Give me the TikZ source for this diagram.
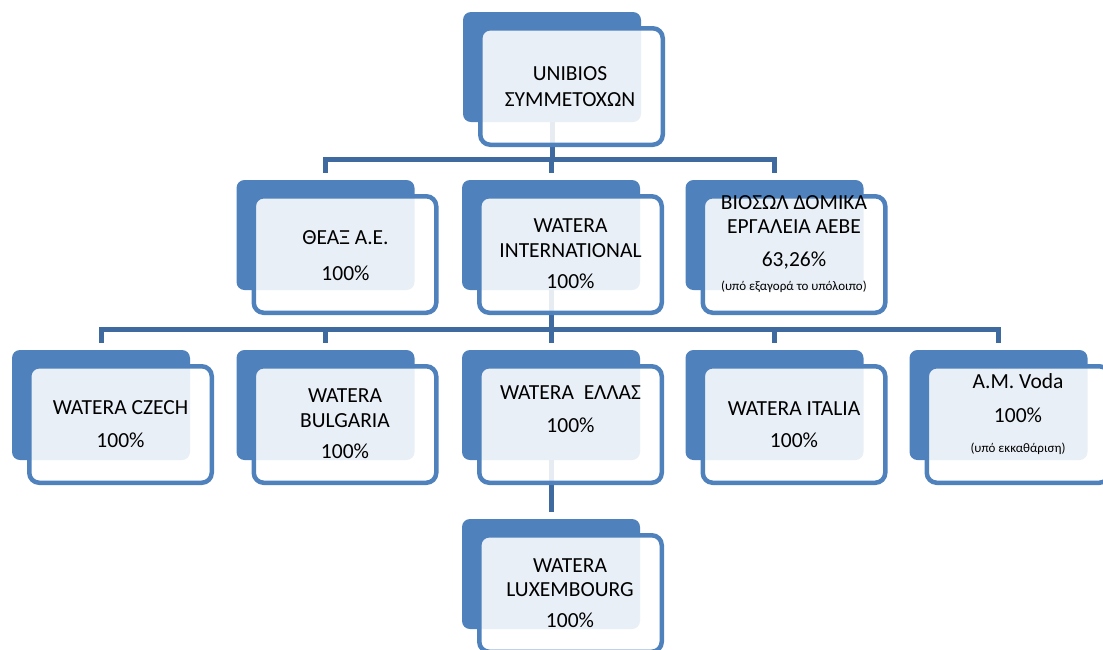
\documentclass[tikz,border=0pt]{standalone}
\usepackage{fontspec}
\setmainfont{Carlito}
\definecolor{boxblue}{HTML}{4F81BD}
\definecolor{connblue}{HTML}{3F6AA0}
\tikzset{
  backbox/.style={fill=boxblue, draw=none, rounded corners=8pt, inner sep=0pt,
    minimum width=178pt, minimum height=110pt},
  frontbox/.style={fill=white, fill opacity=0.88, draw=boxblue, draw opacity=1,
    line width=4.5pt, rounded corners=10pt, inner sep=0pt,
    minimum width=182.5pt, minimum height=116.5pt},
  conn/.style={draw=connblue, line width=5pt, shorten >=7pt},
  txt/.style={anchor=base, inner sep=0pt, text=black, opacity=1, text opacity=1,
    font=\fontsize{21.5}{25}\selectfont},
  small/.style={txt, font=\fontsize{13}{15}\selectfont},
}
\newcommand\orgback[3]{\node[backbox] (#1) at (#2,#3+55) {};}
\newcommand\orgfront[1]{\node[frontbox] (#1f) at ([shift={(19.5pt,-19.5pt)}]#1.center) {};}
\begin{document}
\begin{tikzpicture}[x=1pt,y=-1pt]
\useasboundingbox (0,0) rectangle (1103,649);
\clip (0,0) rectangle (1103,649);
% back rectangles
\orgback{top}{552}{12}
\orgback{theax}{325.5}{180}
\orgback{intl}{551}{180}
\orgback{biosol}{774.5}{180}
\orgback{czech}{101}{350}
\orgback{bulg}{325.5}{350}
\orgback{ellas}{551}{350}
\orgback{italia}{774.5}{350}
\orgback{voda}{998.5}{350}
\orgback{lux}{551}{519}
% connector levels
\coordinate (h1) at (0,159.5);
\coordinate (h2) at (0,329.5);
% connectors
\foreach \c in {theax,intl,biosol}
  {\draw[conn] (top.south) |- (h1 -| \c.north) -- (\c.north);}
\foreach \c in {czech,bulg,ellas,italia,voda}
  {\draw[conn] (intl.south) |- (h2 -| \c.north) -- (\c.north);}
\draw[conn] (ellas.south) -- (lux.north);
% front frames
\begin{scope}
\foreach \c in {top,theax,intl,biosol,czech,bulg,ellas,italia,voda,lux}
  {\orgfront{\c}}
\end{scope}
% texts
\begin{scope}[opacity=1]
\node[txt] (t1) at (570,80) {UNIBIOS};
\node[txt] (t2) at (570,106) {ΣΥΜΜΕΤΟΧΩΝ};
\node[txt] (t3) at (345.5,244) {ΘΕΑΞ Α.Ε.};
\node[txt] (t4) at (345.5,280) {100\%};
\node[txt] (t5) at (570.5,232) {WATERA};
\node[txt] (t6) at (570.5,257) {INTERNATIONAL};
\node[txt] (t7) at (570.5,288) {100\%};
\node[txt] (t8) at (794,209) {ΒΙΟΣΩΛ ΔΟΜΙΚΑ};
\node[txt] (t9) at (794,233) {ΕΡΓΑΛΕΙΑ ΑΕΒΕ};
\node[txt] (t10) at (794,266) {63,26\%};
\node[small] (t11) at (794,290) {(υπό εξαγορά το υπόλοιπο)};
\node[txt] (t12) at (120.5,414) {WATERA CZECH};
\node[txt] (t13) at (120.5,447) {100\%};
\node[txt] (t14) at (345,402) {WATERA};
\node[txt] (t15) at (345,427) {BULGARIA};
\node[txt] (t16) at (345,458) {100\%};
\node[txt] (t17) at (570.5,399) {WATERA\ \ ΕΛΛΑΣ};
\node[txt] (t18) at (570.5,432) {100\%};
\node[txt] (t19) at (794,415) {WATERA ITALIA};
\node[txt] (t20) at (794,447) {100\%};
\node[txt] (t21) at (1018,388) {A.M. Voda};
\node[txt] (t22) at (1018,422) {100\%};
\node[small] (t23) at (1018,452) {(υπό εκκαθάριση)};
\node[txt] (t24) at (570,572) {WATERA};
\node[txt] (t25) at (570,596) {LUXEMBOURG};
\node[txt] (t26) at (570,627) {100\%};
\end{scope}
\end{tikzpicture}
\end{document}
